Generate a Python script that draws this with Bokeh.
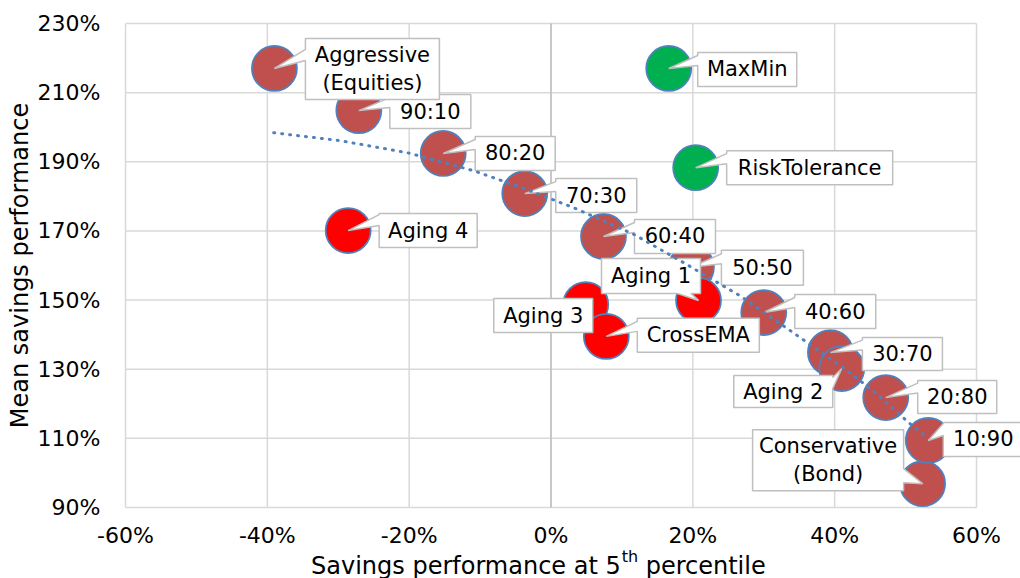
from bokeh.plotting import figure
from bokeh.models import FixedTicker, PrintfTickFormatter, PolyAnnotation, Label, Range1d
from bokeh.embed import file_html
from bokeh.resources import INLINE

# ---------------- data (values in percent) ----------------
x_ticks = [-60, -40, -20, 0, 20, 40, 60]
y_ticks = [90, 110, 130, 150, 170, 190, 210, 230]

portfolio_names = ["Conservative\n(Bond)", "10:90", "20:80", "30:70", "40:60", "50:50",
                   "60:40", "70:30", "80:20", "90:10", "Aggressive\n(Equities)"]
portfolio_x = [52.4, 53.2, 47.2, 39.4, 30.0, 19.8, 7.4, -3.7, -15.2, -27.1, -39.0]
portfolio_y = [96.9, 109.4, 121.8, 134.8, 146.4, 159.5, 168.4, 180.8, 192.4, 204.8, 217.0]

aging2_names = ["Aging 2"]
aging2_x = [41.0]
aging2_y = [130.2]

red_names = ["Aging 3", "CrossEMA", "Aging 1", "Aging 4"]
red_x = [4.9, 7.8, 20.8, -28.6]
red_y = [148.7, 139.5, 149.9, 170.1]

green_names = ["MaxMin", "RiskTolerance"]
green_x = [16.6, 20.4]
green_y = [217.0, 188.3]

# trendline
trend_x = [-39.1, -29.7, -20.2, -10.9, -3.7, 3.2, 11.6, 18.3, 26.7, 32.8, 41.3, 45.5, 50.7, 52.8]
trend_y = [198.4, 196.1, 192.6, 187.4, 182.2, 176.7, 169.1, 161.3, 151.2, 142.5, 130.3, 123.6, 114.1, 110.6]

x_title = ["Savings performance at 5", "th", "percentile"]
y_title = "Mean savings performance"

# ---------------- styles / layout ----------------
BROWN, RED, GREEN = "#C0504D", "#FF0000", "#00B050"
OUTLINE = "#4F81BD"
GRID = "#D9D9D9"
ZERO = "#BFBFBF"
BOXLINE = "#BFBFBF"
FONT = "DejaVu Sans"

W, H = 1020, 578                      # canvas = frame
PL, PR, PT, PB = 125, 976, 23, 507    # plot-area box inside the canvas (px)
XMIN, XMAX, YMIN, YMAX = -60, 60, 90, 230
SX = (PR - PL) / (XMAX - XMIN)
SY = (PB - PT) / (YMAX - YMIN)
x_range = Range1d(XMIN - PL / SX, XMAX + (W - PR) / SX)
y_range = Range1d(YMIN - (H - PB) / SY, YMAX + PT / SY)

# callout layout: box-centre offset (px, y down), box w, h, pointer side, base start/end (px rel. box centre)
callout = {
    "Aggressive\n(Equities)": (98, 0.5, 134, 61, "left", -19.5, -8.5),
    "90:10": (71.5, 1, 81, 34, "left", -14, -4),
    "80:20": (72, 0, 80, 34, "left", -14, -4),
    "70:30": (71.5, 2, 81, 34, "left", -14, -4),
    "60:40": (71.5, 0, 81, 34, "left", -14, -4),
    "50:50": (71, 0.5, 82, 35, "left", -14, -4),
    "40:60": (71.5, -1, 81, 34, "left", -14, -4),
    "30:70": (72, 1.5, 80, 33, "left", -14, -4),
    "20:80": (71.5, -0.5, 79, 33, "left", -14, -4),
    "10:90": (55, -1, 80, 34, "left", -16, -4),
    "Conservative\n(Bond)": (-94.5, -23.5, 151, 61, "right", 8.5, 22.5),
    "Aging 2": (-58.5, 23, 99, 32, "right", -14, -3),
    "Aging 3": (-42.5, 11, 99, 34, None, 0, 0),
    "CrossEMA": (92, -1, 122, 34, "left", -14, -4),
    "Aging 1": (-47.5, -24.5, 99, 35, "bottom", 26.5, 40),
    "Aging 4": (80, 0, 98, 34, "left", -16, -5),
    "MaxMin": (78.5, 1, 99, 34, "left", -14, -4),
    "RiskTolerance": (114, 0, 166, 34, "left", -14, -4),
}

p = figure(frame_width=W, frame_height=H, x_range=x_range, y_range=y_range,
           output_backend="svg", toolbar_location=None,
           min_border=0, min_border_left=0, min_border_right=0, min_border_top=0, min_border_bottom=0,
           background_fill_color="white", border_fill_color="white", outline_line_color=None)
p.grid.visible = False

# axes drawn inside the canvas at the plot-area edges
for ax, ticks, loc in ((p.xaxis, x_ticks, YMIN), (p.yaxis, y_ticks, XMIN)):
    ax.fixed_location = loc
    ax.ticker = FixedTicker(ticks=ticks)
    ax.bounds = (ticks[0], ticks[-1])
    ax.formatter = PrintfTickFormatter(format="%d%%")
    ax.axis_line_color = None
    ax.major_tick_line_color = None
    ax.minor_tick_line_color = None
    ax.major_tick_out = 0
    ax.major_tick_in = 0
    ax.major_label_text_font = FONT
    ax.major_label_text_font_size = "22px"
    ax.major_label_text_color = "black"

p.xaxis.major_label_standoff = 15
p.yaxis.major_label_standoff = 25
p.yaxis.axis_label = y_title
p.yaxis.axis_label_text_font = FONT
p.yaxis.axis_label_text_font_size = "24px"
p.yaxis.axis_label_text_font_style = "normal"
p.yaxis.axis_label_text_color = "black"
p.yaxis.axis_label_standoff = 1

# gridlines (plot-area box edges included)
p.segment(x0=x_ticks, y0=[YMIN] * len(x_ticks), x1=x_ticks, y1=[YMAX] * len(x_ticks),
          line_color=GRID, line_width=1.5, level="underlay")
p.segment(x0=[XMIN] * len(y_ticks), y0=y_ticks, x1=[XMAX] * len(y_ticks), y1=y_ticks,
          line_color=GRID, line_width=1.5, level="underlay")
p.segment(x0=[0], y0=[YMIN], x1=[0], y1=[YMAX], line_color=ZERO, line_width=1.5, level="underlay")

# markers
mk = dict(marker="circle", size=45, line_color=OUTLINE, line_width=1.75)
p.scatter(portfolio_x, portfolio_y, fill_color=BROWN, **mk)
p.scatter(aging2_x, aging2_y, fill_color=BROWN, **mk)
p.scatter(red_x, red_y, fill_color=RED, **mk)
p.scatter(green_x, green_y, fill_color=GREEN, **mk)

# callouts
def add_callout(name, x0, y0):
    dx, dy, w, h, side, b0, b1 = callout[name]
    L, R, T, B = dx - w / 2, dx + w / 2, dy - h / 2, dy + h / 2
    if side == "left":
        pts = [(L, T), (R, T), (R, B), (L, B), (L, dy + b1), (0, 0), (L, dy + b0)]
    elif side == "right":
        pts = [(L, T), (R, T), (R, dy + b0), (0, 0), (R, dy + b1), (R, B), (L, B)]
    elif side == "bottom":
        pts = [(L, T), (R, T), (R, B), (dx + b1, B), (0, 0), (dx + b0, B), (L, B)]
    elif side == "top":
        pts = [(L, T), (dx + b0, T), (0, 0), (dx + b1, T), (R, T), (R, B), (L, B)]
    else:
        pts = [(L, T), (R, T), (R, B), (L, B)]
    xs = [x0 + px / SX for px, _ in pts]
    ys = [y0 - py / SY for _, py in pts]
    p.add_layout(PolyAnnotation(xs=xs, ys=ys, fill_color="white", fill_alpha=1,
                                line_color=BOXLINE, line_width=1.5, line_alpha=1))
    p.add_layout(Label(x=x0 + dx / SX, y=y0 - dy / SY, text=name, text_align="center",
                       text_baseline="middle", text_font=FONT, text_font_size="21px",
                       text_color="black", text_line_height=1.15))

for names, xs_, ys_ in ((portfolio_names, portfolio_x, portfolio_y),
                        (aging2_names, aging2_x, aging2_y),
                        (red_names, red_x, red_y),
                        (green_names, green_x, green_y)):
    for n, xv, yv in zip(names, xs_, ys_):
        add_callout(n, xv, yv)

# trendline on top
p.line(trend_x, trend_y, line_color=OUTLINE, line_width=3, line_dash="1 7", line_cap="round", level="overlay")

# x-axis title with superscript
base_off = -240
w1 = 310.2          # width of first part at 24px
w_th = 16.4         # width of superscript at 16px
w_sp = 7.6          # a space at 24px
xc = (XMIN + XMAX) / 2
TY = -58            # title baseline offset below the plot area
p.add_layout(Label(x=xc, y=YMIN, x_offset=base_off, y_offset=TY, text=x_title[0], text_font=FONT,
                   text_font_size="24px", text_color="black", text_align="left", text_baseline="alphabetic"))
p.add_layout(Label(x=xc, y=YMIN, x_offset=base_off + w1 + 0.5, y_offset=TY + 9, text=x_title[1], text_font=FONT,
                   text_font_size="16px", text_color="black", text_align="left", text_baseline="alphabetic"))
p.add_layout(Label(x=xc, y=YMIN, x_offset=base_off + w1 + 0.5 + w_th + w_sp, y_offset=TY, text=x_title[2],
                   text_font=FONT, text_font_size="24px", text_color="black", text_align="left",
                   text_baseline="alphabetic"))

open("out.html", "w").write(file_html(p, INLINE))
